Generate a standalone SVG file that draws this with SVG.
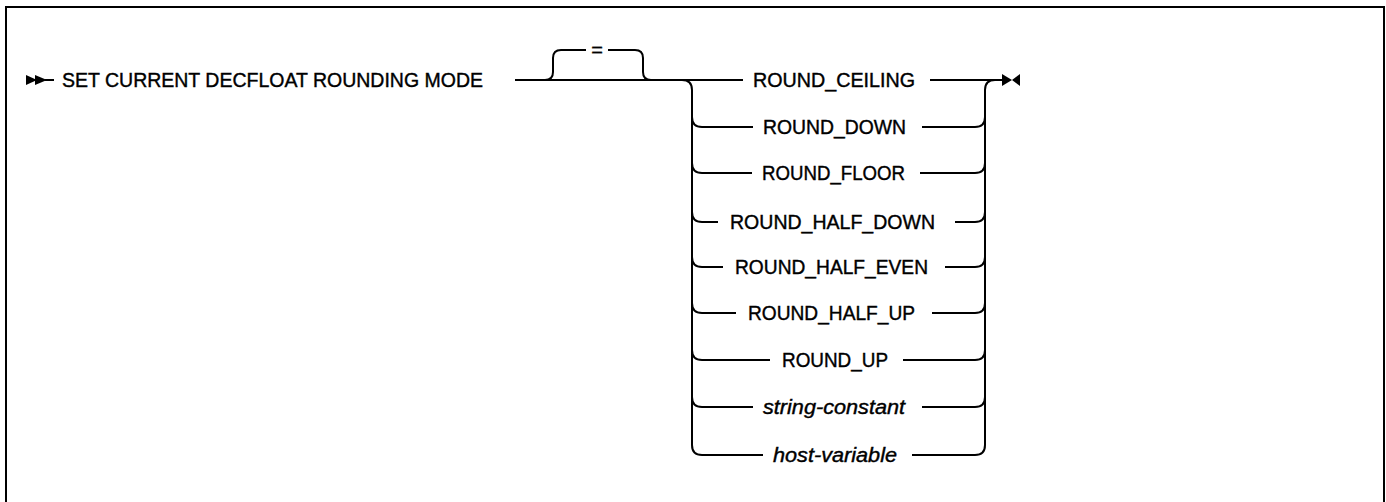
<svg xmlns="http://www.w3.org/2000/svg" width="1386" height="502" viewBox="0 0 1386 502">
<style>
.ln{fill:none;stroke:#000;stroke-width:2}
.t{font-family:"Liberation Sans",Arial,sans-serif;font-size:20px;fill:#000;stroke:#000;stroke-width:0.4}
.i{font-style:italic}
.mk{fill:#000}
</style>
<rect width="1386" height="502" fill="#fff"/>
<path class="ln" d="M6,504 V7 H1384 V504"/>
<g id="start">
<polygon class="mk" points="26,75 37,80 26,85"/>
<polygon class="mk" points="35,75 47,80 35,85"/>
<path class="ln" d="M45,80 H54"/>
</g>
<g id="keyword">
<text class="t" x="62" y="87" textLength="421" lengthAdjust="spacingAndGlyphs">SET CURRENT DECFLOAT ROUNDING MODE</text>
</g>
<g id="equals">
<text class="t" x="597" y="57" text-anchor="middle">=</text>
</g>
<g id="end">
<polygon class="mk" points="1002,74 1012,80 1002,86"/>
<polygon class="mk" points="1020,74 1012,80 1020,86"/>
</g>
<g id="connectors">
<path class="ln" d="M515,80 H743"/>
<path class="ln" d="M545,80 Q553,80 553,72 V58 Q553,50 561,50 H586"/>
<path class="ln" d="M608,50 H635 Q643,50 643,58 V72 Q643,80 651,80"/>
<path class="ln" d="M930,80 H1003"/>
<path class="ln" d="M682,80 Q692,80 692,90 V445 Q692,455 702,455 H763"/>
<path class="ln" d="M985,445 V90 Q985,80 995,80"/>
<path class="ln" d="M692,117 Q692,127 702,127 H753 M922,127 H975 Q985,127 985,117"/>
<path class="ln" d="M692,163 Q692,173 702,173 H752 M920,173 H975 Q985,173 985,163"/>
<path class="ln" d="M692,212 Q692,222 702,222 H718 M955,222 H975 Q985,222 985,212"/>
<path class="ln" d="M692,257 Q692,267 702,267 H723 M945,267 H975 Q985,267 985,257"/>
<path class="ln" d="M692,303 Q692,313 702,313 H736 M932,313 H975 Q985,313 985,303"/>
<path class="ln" d="M692,350 Q692,360 702,360 H770 M903,360 H975 Q985,360 985,350"/>
<path class="ln" d="M692,397 Q692,407 702,407 H753 M922,407 H975 Q985,407 985,397"/>
<path class="ln" d="M912,455 H975 Q985,455 985,445"/>
</g>
<g id="round_ceiling"><text class="t" x="753" y="87" textLength="162" lengthAdjust="spacingAndGlyphs">ROUND_CEILING</text></g>
<g id="round_down"><text class="t" x="763" y="134" textLength="143" lengthAdjust="spacingAndGlyphs">ROUND_DOWN</text></g>
<g id="round_floor"><text class="t" x="762" y="180" textLength="143" lengthAdjust="spacingAndGlyphs">ROUND_FLOOR</text></g>
<g id="round_half_down"><text class="t" x="730" y="229" textLength="205" lengthAdjust="spacingAndGlyphs">ROUND_HALF_DOWN</text></g>
<g id="round_half_even"><text class="t" x="735" y="274" textLength="193" lengthAdjust="spacingAndGlyphs">ROUND_HALF_EVEN</text></g>
<g id="round_half_up"><text class="t" x="748" y="320" textLength="167" lengthAdjust="spacingAndGlyphs">ROUND_HALF_UP</text></g>
<g id="round_up"><text class="t" x="782" y="367" textLength="106" lengthAdjust="spacingAndGlyphs">ROUND_UP</text></g>
<g id="string_constant"><text class="t i" x="763" y="414" textLength="142" lengthAdjust="spacingAndGlyphs">string-constant</text></g>
<g id="host_variable"><text class="t i" x="773" y="462" textLength="124" lengthAdjust="spacingAndGlyphs">host-variable</text></g>
</svg>
